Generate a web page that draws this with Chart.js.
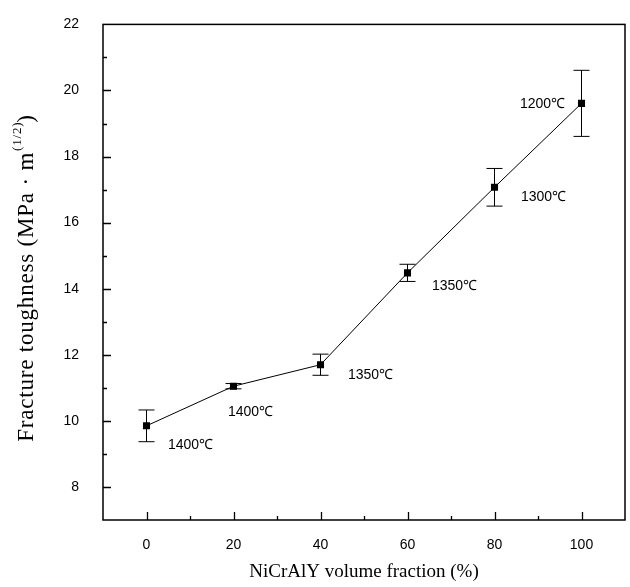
<!DOCTYPE html>
<html>
<head>
<meta charset="utf-8">
<script src="https://cdn.jsdelivr.net/npm/chart.js@4.4.0/dist/chart.umd.min.js"></script>
<style>
  html, body { margin: 0; padding: 0; background: #fff; }
  #wrap { width: 630px; height: 587px; }
</style>
</head>
<body>
<div id="wrap"><canvas id="myChart" width="630" height="587"></canvas></div>
<script>
// data
const fractions = [0, 20, 40, 60, 80, 100];
const toughness = [9.85, 11.05, 11.7, 14.48, 17.07, 19.61];
const errors = [0.48, 0.08, 0.32, 0.26, 0.57, 1.0];
const temps = ['1400℃', '1400℃', '1350℃', '1350℃', '1300℃', '1200℃'];
const xTicks = [0, 20, 40, 60, 80, 100];
const yTicks = [8, 10, 12, 14, 16, 18, 20, 22];

// where each temperature label sits relative to its point (px)
const labelOffsets = [[44, 19], [17, 26], [50, 10], [47, 13], [49, 10], [-39, 1]];

const sansFont = "'Liberation Sans', Arial, sans-serif";
const serifFont = "'Liberation Serif', 'Times New Roman', serif";

const figurePlugin = {
  id: 'figure',
  beforeDatasetsDraw(chart) {
    const ctx = chart.ctx;
    const xs = chart.scales.x, ys = chart.scales.y;
    ctx.save();
    ctx.strokeStyle = '#000';
    ctx.lineWidth = 1;
    // error bars
    for (let i = 0; i < fractions.length; i++) {
      const px = xs.getPixelForValue(fractions[i]);
      const top = ys.getPixelForValue(toughness[i] + errors[i]);
      const bot = ys.getPixelForValue(toughness[i] - errors[i]);
      ctx.beginPath();
      ctx.moveTo(px, top); ctx.lineTo(px, bot);
      ctx.moveTo(px - 8, top); ctx.lineTo(px + 8, top);
      ctx.moveTo(px - 8, bot); ctx.lineTo(px + 8, bot);
      ctx.stroke();
    }
    ctx.restore();
  },
  afterDraw(chart) {
    const ctx = chart.ctx;
    const a = chart.chartArea;
    const xs = chart.scales.x, ys = chart.scales.y;
    ctx.save();
    // frame
    ctx.strokeStyle = '#000';
    ctx.lineWidth = 1.5;
    ctx.strokeRect(a.left, a.top, a.right - a.left, a.bottom - a.top);
    // inward ticks
    ctx.lineWidth = 1.3;
    ctx.beginPath();
    for (let v = 0; v <= 100; v += 10) {
      const px = Math.round(xs.getPixelForValue(v)) + 0.5;
      const len = v % 20 === 0 ? 8 : 4;
      ctx.moveTo(px, a.bottom); ctx.lineTo(px, a.bottom - len);
    }
    for (let v = 8; v <= 21; v += 1) {
      const py = Math.round(ys.getPixelForValue(v)) + 0.5;
      const len = v % 2 === 0 ? 8 : 4;
      ctx.moveTo(a.left, py); ctx.lineTo(a.left + len, py);
    }
    ctx.stroke();

    // temperature labels
    ctx.fillStyle = '#000';
    ctx.font = '14px ' + sansFont;
    ctx.textAlign = 'center';
    ctx.textBaseline = 'middle';
    for (let i = 0; i < fractions.length; i++) {
      const px = xs.getPixelForValue(fractions[i]);
      const py = ys.getPixelForValue(toughness[i]);
      ctx.fillText(temps[i], px + labelOffsets[i][0], py + labelOffsets[i][1]);
    }

    // x title
    ctx.font = '19px ' + serifFont;
    ctx.fillText('NiCrAlY volume fraction (%)', (a.left + a.right) / 2, 572);

    // y title with superscript
    ctx.translate(33, 278);
    ctx.rotate(-Math.PI / 2);
    ctx.textAlign = 'left';
    ctx.textBaseline = 'alphabetic';
    ctx.letterSpacing = '0.8px';
    const main = 'Fracture toughness (MPa · m';
    const sup = '(1/2)';
    const tail = ')';
    ctx.font = '23px ' + serifFont;
    const wMain = ctx.measureText(main).width;
    ctx.font = '13px ' + serifFont;
    const wSup = ctx.measureText(sup).width;
    ctx.font = '23px ' + serifFont;
    const wTail = ctx.measureText(tail).width;
    let x0 = -(wMain + wSup + wTail) / 2;
    ctx.fillText(main, x0, 0);
    ctx.font = '13px ' + serifFont;
    ctx.fillText(sup, x0 + wMain + 1, -12);
    ctx.font = '23px ' + serifFont;
    ctx.fillText(tail, x0 + wMain + wSup, 0);
    ctx.restore();
  }
};

const ctx = document.getElementById('myChart');
const myChart = new Chart(ctx, {
  type: 'line',
  data: {
    datasets: [{
      data: fractions.map((f, i) => ({ x: f, y: toughness[i] })),
      borderColor: '#000',
      backgroundColor: '#000',
      borderWidth: 1,
      pointStyle: 'rect',
      pointRadius: 5,
      pointBorderWidth: 0,
      tension: 0
    }]
  },
  options: {
    responsive: false,
    animation: false,
    devicePixelRatio: 1,
    layout: { padding: { top: 17, right: 3, left: 0, bottom: 0 } },
    plugins: { legend: { display: false }, tooltip: { enabled: false } },
    scales: {
      x: {
        type: 'linear',
        min: -10,
        max: 110,
        grid: { display: false },
        border: { display: false },
        afterBuildTicks: s => { s.ticks = xTicks.map(v => ({ value: v })); },
        afterFit: s => { s.height = 67; },
        ticks: {
          padding: 9,
          color: '#000',
          font: { family: sansFont, size: 14 }
        }
      },
      y: {
        min: 7,
        max: 22,
        grid: { display: false },
        border: { display: false },
        afterBuildTicks: s => { s.ticks = yTicks.map(v => ({ value: v })); },
        afterFit: s => { s.width = 103; },
        ticks: {
          padding: 16,
          color: '#000',
          font: { family: sansFont, size: 14 }
        }
      }
    }
  },
  plugins: [figurePlugin]
});
</script>
</body>
</html>
